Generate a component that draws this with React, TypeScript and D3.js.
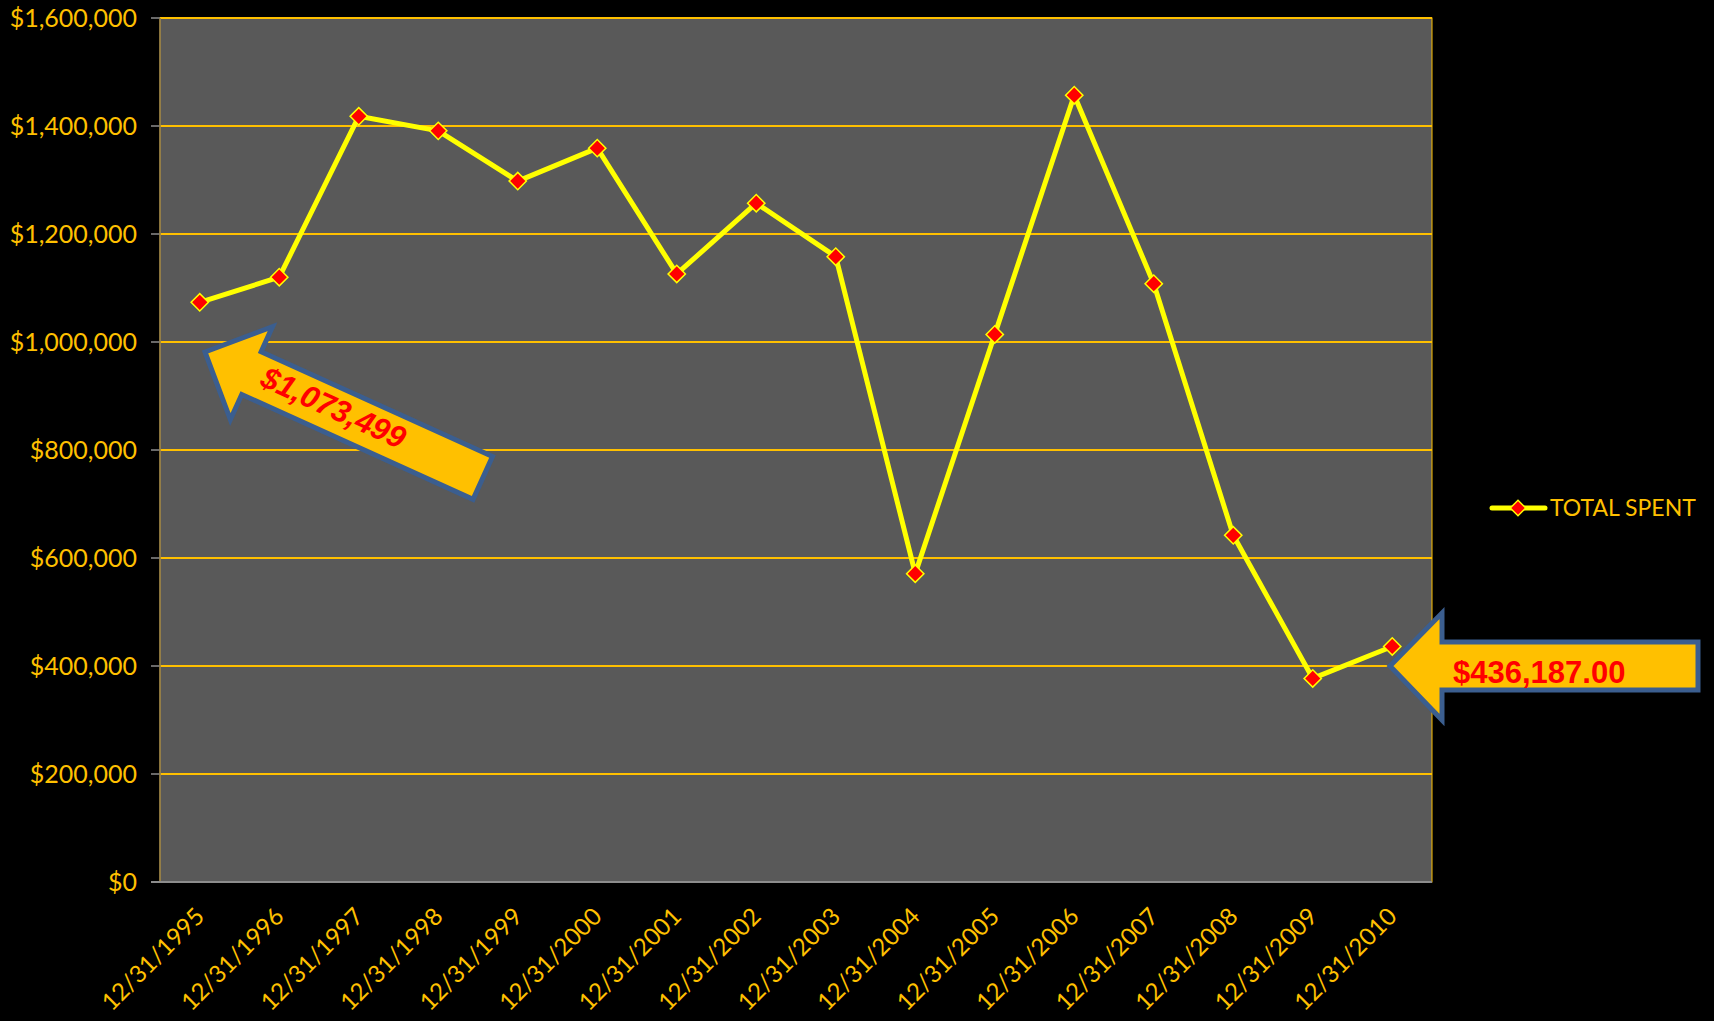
import React from "react";
import * as d3 from "d3";

const categories = ["12/31/1995","12/31/1996","12/31/1997","12/31/1998","12/31/1999","12/31/2000","12/31/2001","12/31/2002","12/31/2003","12/31/2004","12/31/2005","12/31/2006","12/31/2007","12/31/2008","12/31/2009","12/31/2010"];
const totalSpent = [1073499,1120000,1418000,1391000,1298000,1359000,1126000,1257000,1158000,571000,1014000,1457000,1108000,642000,377000,436187];
const yTicks = [0,200000,400000,600000,800000,1000000,1200000,1400000,1600000];
const seriesName = "TOTAL SPENT";
const callout1 = "$1,073,499";
const callout2 = "$436,187.00";

const W = 1714, H = 1021;
const left = 160, right = 1432, top = 18, bottom = 882;
const GOLD = "#FFC000";
const FONT = "Lato, 'Open Sans', sans-serif";

export default function App() {
  const x = d3.scalePoint<string>().domain(categories).range([left, right]).padding(0.5);
  const y = d3.scaleLinear().domain([0, 1600000]).range([bottom, top]);
  const fmt = d3.format("$,");
  const line = d3.line<number>().x((_, i) => x(categories[i])!).y(d => y(d));
  const diamond = d3.symbol().type(d3.symbolSquare).size(150)()!;
  const diamondSmall = d3.symbol().type(d3.symbolSquare).size(120)()!;

  // arrow 1 (local coords: tip at 0,0 pointing left)
  const L1 = 305, hl = 51, hw = 51, sw = 23.5;
  const arrow1 = `M0,0 L${hl},${-hw} L${hl},${-sw} L${L1},${-sw} L${L1},${sw} L${hl},${sw} L${hl},${hw} Z`;
  const arrow2 = `M1390,666 L1442,613 L1442,642 L1698,642 L1698,690 L1442,690 L1442,720 Z`;

  return (
    <svg width={W} height={H} style={{ position: "absolute", left: 0, top: 0, background: "#000" }}>
      <rect x={0} y={0} width={W} height={H} fill="#000" />
      <rect x={left} y={top} width={right - left} height={bottom - top} fill="#595959" stroke={GOLD} strokeWidth={1} />
      {yTicks.map(t => (
        <g key={t}>
          {t > 0 && <line x1={left} x2={right} y1={y(t)} y2={y(t)} stroke={GOLD} strokeWidth={1.8} />}
          <line x1={151} x2={left} y1={y(t)} y2={y(t)} stroke="#8c8c8c" strokeWidth={1.5} />
          <text x={137} y={y(t)} dy="0.35em" textAnchor="end" fill={GOLD} fontFamily={FONT} fontSize={25}>{fmt(t)}</text>
        </g>
      ))}
      <line x1={left} x2={left} y1={top} y2={bottom} stroke="#8c7a50" strokeWidth={1.5} />
      <line x1={151} x2={right} y1={bottom} y2={bottom} stroke="#8c8c8c" strokeWidth={2} />
      {categories.map(c => (
        <text key={c} transform={`translate(${x(c)! + 6},${bottom + 36}) rotate(-45)`} textAnchor="end" fill={GOLD} fontFamily={FONT} fontSize={24}>{c}</text>
      ))}
      <path d={line(totalSpent)!} fill="none" stroke="#FFFF00" strokeWidth={5} strokeLinejoin="round" />
      {totalSpent.map((v, i) => (
        <path key={i} d={diamond} transform={`translate(${x(categories[i])},${y(v)}) rotate(45)`} fill="#FF0000" stroke="#FFFF00" strokeWidth={1.5} />
      ))}
      {/* legend */}
      <line x1={1492} x2={1545} y1={508} y2={508} stroke="#FFFF00" strokeWidth={5} strokeLinecap="round" />
      <path d={diamondSmall} transform="translate(1518,508) rotate(45)" fill="#FF0000" stroke="#FFFF00" strokeWidth={1.5} />
      <text x={1550} y={508} dy="0.36em" fill={GOLD} fontFamily={FONT} fontSize={23}>{seriesName}</text>
      {/* callout arrow 1 */}
      <g transform="translate(205,352) rotate(24.4)">
        <path d={arrow1} fill={GOLD} stroke="#3B5E8F" strokeWidth={5} strokeLinejoin="miter" />
        <text x={140} y={-3} dy="0.36em" textAnchor="middle" fill="#FF0000" fontFamily="'Liberation Sans', Arial, sans-serif" fontWeight="bold" fontStyle="italic" fontSize={31}>{callout1}</text>
      </g>
      {/* callout arrow 2 */}
      <path d={arrow2} fill={GOLD} stroke="#3B5E8F" strokeWidth={5} strokeLinejoin="miter" />
      <text x={1453} y={683} fill="#FF0000" fontFamily="'Liberation Sans', Arial, sans-serif" fontWeight="bold" fontSize={31}>{callout2}</text>
    </svg>
  );
}
